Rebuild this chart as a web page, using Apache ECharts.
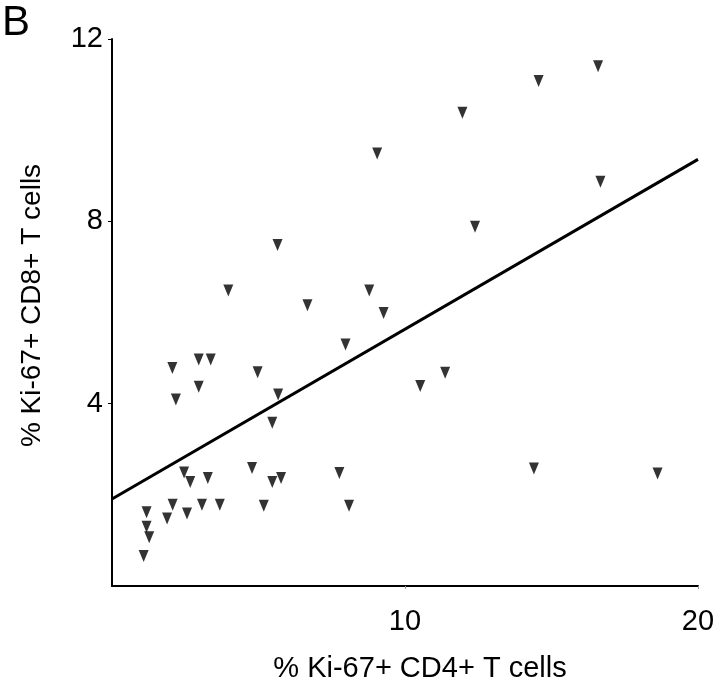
<!DOCTYPE html>
<html>
<head>
<meta charset="utf-8">
<script src="https://cdn.jsdelivr.net/npm/echarts@6/dist/echarts.min.js"></script>
<style>html,body{margin:0;padding:0;background:#fff}#c{width:720px;height:694px}</style>
</head>
<body>
<div id="c"></div>
<script>
// % Ki-67+ CD4+ T cells (x) and % Ki-67+ CD8+ T cells (y)
const cd4 = [9.05, 5.65, 3.97, 6.67, 8.78, 9.27, 16.59, 14.56, 11.96, 16.67, 12.39,
  7.97, 2.06, 2.96, 3.37, 4.97, 2.96, 2.18, 5.67, 5.47, 10.52, 11.37,
  2.46, 2.67, 3.27, 4.78, 5.47, 5.77, 7.76, 8.09, 5.18, 3.68, 3.07, 2.07,
  2.56, 1.88, 1.18, 1.18, 1.27, 1.08, 14.40, 18.62];
const cd8 = [9.49, 7.48, 6.48, 6.16, 6.48, 5.99, 11.40, 11.08, 10.38, 8.87, 7.88,
  5.30, 4.78, 4.97, 4.97, 4.69, 4.37, 4.09, 4.20, 3.58, 4.39, 4.68,
  2.49, 2.28, 2.37, 2.59, 2.28, 2.37, 2.48, 1.76, 1.76, 1.78, 1.78, 1.78,
  1.59, 1.48, 1.62, 1.30, 1.07, 0.66, 2.58, 2.47];
// regression line end points
const fitX = [0, 20];
const fitY = [1.91, 9.36];
const xTicks = [0, 10, 20];
const yTicks = [0, 4, 8, 12];

const font = '"Liberation Sans", Arial, sans-serif';
const chart = echarts.init(document.getElementById('c'), null, {renderer: 'canvas'});
chart.setOption({
  animation: false,
  backgroundColor: '#fff',
  title: {
    text: 'B', left: 2, top: 2, padding: 0,
    textStyle: {fontFamily: font, fontSize: 42, fontWeight: 'normal', color: '#000'}
  },
  grid: {left: 112, right: 22, top: 39, bottom: 108},
  xAxis: {
    type: 'value', min: xTicks[0], max: xTicks[xTicks.length - 1], interval: 10,
    name: '% Ki-67+ CD4+ T cells', nameLocation: 'middle', nameGap: 68,
    nameTextStyle: {fontFamily: font, fontSize: 29, color: '#000', padding: [0, 0, 0, 30]},
    axisLine: {lineStyle: {color: '#000', width: 2}},
    axisTick: {show: true, length: 3, lineStyle: {color: '#999', width: 1}},
    axisLabel: {showMinLabel: false, fontFamily: font, fontSize: 29, color: '#000', margin: 21},
    splitLine: {show: false}
  },
  yAxis: {
    type: 'value', min: yTicks[0], max: yTicks[yTicks.length - 1], interval: 4,
    name: '% Ki-67+ CD8+ T cells', nameLocation: 'middle', nameGap: 66,
    nameTextStyle: {fontFamily: font, fontSize: 28, color: '#000', padding: [0, 0, 0, 14]},
    axisLine: {lineStyle: {color: '#000', width: 2}},
    axisTick: {show: true, length: 4, lineStyle: {color: '#000', width: 1}},
    axisLabel: {showMinLabel: false, fontFamily: font, fontSize: 29, color: '#000', margin: 9},
    splitLine: {show: false}
  },
  series: [
    {
      type: 'scatter',
      data: cd4.map((x, i) => [x, cd8[i]]),
      symbol: 'triangle', symbolRotate: 180, symbolSize: [10, 12],
      itemStyle: {color: '#000'}
    },
    {
      type: 'line',
      data: fitX.map((x, i) => [x, fitY[i]]),
      symbol: 'none',
      lineStyle: {color: '#000', width: 3}
    }
  ]
});
</script>
</body>
</html>
